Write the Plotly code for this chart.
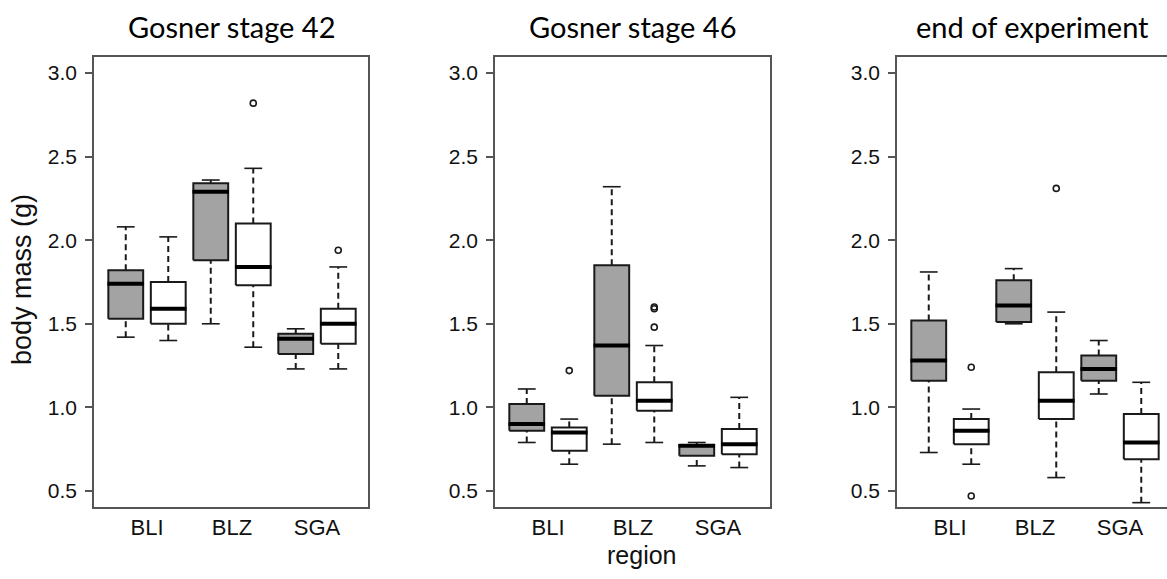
import plotly.graph_objects as go

W, H = 1167, 579

stages = ["Gosner stage 42", "Gosner stage 46", "end of experiment"]
regions = ["BLI", "BLZ", "SGA"]
y_ticks = [0.5, 1.0, 1.5, 2.0, 2.5, 3.0]

# Gosner stage 42
s42_gray_lower = [1.42, 1.50, 1.23]
s42_gray_q1 = [1.53, 1.88, 1.32]
s42_gray_med = [1.74, 2.29, 1.41]
s42_gray_q3 = [1.82, 2.34, 1.44]
s42_gray_upper = [2.08, 2.36, 1.47]
s42_gray_out = [[], [], []]
s42_white_lower = [1.40, 1.36, 1.23]
s42_white_q1 = [1.50, 1.73, 1.38]
s42_white_med = [1.59, 1.84, 1.50]
s42_white_q3 = [1.75, 2.10, 1.59]
s42_white_upper = [2.02, 2.43, 1.84]
s42_white_out = [[], [2.82], [1.94]]

# Gosner stage 46
s46_gray_lower = [0.79, 0.78, 0.65]
s46_gray_q1 = [0.86, 1.07, 0.71]
s46_gray_med = [0.90, 1.37, 0.77]
s46_gray_q3 = [1.02, 1.85, 0.775]
s46_gray_upper = [1.11, 2.32, 0.79]
s46_gray_out = [[], [], []]
s46_white_lower = [0.66, 0.79, 0.64]
s46_white_q1 = [0.74, 0.98, 0.72]
s46_white_med = [0.85, 1.04, 0.78]
s46_white_q3 = [0.88, 1.15, 0.87]
s46_white_upper = [0.93, 1.37, 1.06]
s46_white_out = [[1.22], [1.48, 1.59, 1.60], []]

# end of experiment
end_gray_lower = [0.73, 1.50, 1.08]
end_gray_q1 = [1.16, 1.51, 1.16]
end_gray_med = [1.28, 1.61, 1.23]
end_gray_q3 = [1.52, 1.76, 1.31]
end_gray_upper = [1.81, 1.83, 1.40]
end_gray_out = [[], [], []]
end_white_lower = [0.66, 0.58, 0.43]
end_white_q1 = [0.78, 0.93, 0.69]
end_white_med = [0.86, 1.04, 0.79]
end_white_q3 = [0.93, 1.21, 0.96]
end_white_upper = [0.99, 1.57, 1.15]
end_white_out = [[1.24, 0.47], [2.31], []]

panels = [
    [(s42_gray_lower, s42_gray_q1, s42_gray_med, s42_gray_q3, s42_gray_upper, s42_gray_out),
     (s42_white_lower, s42_white_q1, s42_white_med, s42_white_q3, s42_white_upper, s42_white_out)],
    [(s46_gray_lower, s46_gray_q1, s46_gray_med, s46_gray_q3, s46_gray_upper, s46_gray_out),
     (s46_white_lower, s46_white_q1, s46_white_med, s46_white_q3, s46_white_upper, s46_white_out)],
    [(end_gray_lower, end_gray_q1, end_gray_med, end_gray_q3, end_gray_upper, end_gray_out),
     (end_white_lower, end_white_q1, end_white_med, end_white_q3, end_white_upper, end_white_out)],
]

fills = ["#a3a3a3", "#ffffff"]
offsets = [-0.25, 0.25]
half_box = 0.205
half_cap = 0.105
half_med = 0.215
line_col = "#1a1a1a"
frame_col = "#555555"

# layout geometry (pixels)
px_left = [94, 495, 897]
px_right = [368, 770, 1167]
frame_top, frame_bottom = 57, 507
unit_px = 85.0
first_center_px = 53.0

fig = go.Figure()

for p, series in enumerate(panels):
    xa = "x" if p == 0 else f"x{p+1}"
    ya = "y" if p == 0 else f"y{p+1}"
    for s, (lo, q1, med, q3, up, outs) in enumerate(series):
        bx, by = [], []
        wx, wy = [], []
        cx, cy = [], []
        mx, my = [], []
        ox, oy = [], []
        for g in range(len(regions)):
            c = g + offsets[s]
            bx += [c - half_box, c + half_box, c + half_box, c - half_box, c - half_box, None]
            by += [q1[g], q1[g], q3[g], q3[g], q1[g], None]
            wx += [c, c, None, c, c, None]
            wy += [q3[g], up[g], None, lo[g], q1[g], None]
            cx += [c - half_cap, c + half_cap, None, c - half_cap, c + half_cap, None]
            cy += [up[g], up[g], None, lo[g], lo[g], None]
            mx += [c - half_med, c + half_med, None]
            my += [med[g], med[g], None]
            for o in outs[g]:
                ox.append(c)
                oy.append(o)
        fig.add_trace(go.Scatter(x=wx, y=wy, mode="lines", xaxis=xa, yaxis=ya,
                                 line=dict(color=line_col, width=2.0, dash="6px,4px"),
                                 hoverinfo="skip", showlegend=False))
        fig.add_trace(go.Scatter(x=cx, y=cy, mode="lines", xaxis=xa, yaxis=ya,
                                 line=dict(color=line_col, width=1.6),
                                 hoverinfo="skip", showlegend=False))
        fig.add_trace(go.Scatter(x=bx, y=by, mode="lines", fill="toself", fillcolor=fills[s],
                                 xaxis=xa, yaxis=ya,
                                 line=dict(color=line_col, width=2.0),
                                 hoverinfo="skip", showlegend=False))
        fig.add_trace(go.Scatter(x=mx, y=my, mode="lines", xaxis=xa, yaxis=ya,
                                 line=dict(color="#000000", width=4),
                                 hoverinfo="skip", showlegend=False))
        if ox:
            fig.add_trace(go.Scatter(x=ox, y=oy, mode="markers", xaxis=xa, yaxis=ya,
                                     marker=dict(symbol="circle-open", size=6, color=line_col,
                                                 line=dict(color=line_col, width=1.6)),
                                     hoverinfo="skip", showlegend=False))

ydom = [1 - frame_bottom / H, 1 - frame_top / H]
y_range = [0.404, 3.096]

layout = dict(
    width=W, height=H,
    margin=dict(l=0, r=0, t=0, b=0),
    paper_bgcolor="white", plot_bgcolor="white",
    font=dict(family="Liberation Sans, Arial, sans-serif", color="#111111"),
    showlegend=False,
)

annotations = []
for p in range(3):
    sfx = "" if p == 0 else str(p + 1)
    width_px = px_right[p] - px_left[p]
    x0 = -first_center_px / unit_px
    x1 = (width_px - first_center_px) / unit_px
    layout["xaxis" + sfx] = dict(
        domain=[px_left[p] / W, px_right[p] / W],
        anchor="y" + sfx,
        range=[x0, x1],
        tickvals=list(range(len(regions))), ticktext=regions,
        ticks="", showgrid=False, zeroline=False,
        showline=True, mirror=True, linecolor=frame_col, linewidth=1.6,
        tickfont=dict(size=22, color="#111111"),
        ticklabelstandoff=0,
    )
    layout["yaxis" + sfx] = dict(
        domain=ydom,
        anchor="x" + sfx,
        range=y_range,
        tickvals=y_ticks, ticktext=[f"{v:.1f}" for v in y_ticks],
        ticks="outside", ticklen=7, tickwidth=1.5, tickcolor=frame_col,
        showgrid=False, zeroline=False,
        showline=True, mirror=(p < 2), linecolor=frame_col, linewidth=1.6,
        tickfont=dict(size=21, color="#111111"),
        ticklabelstandoff=4,
    )
    cx_px = (px_left[p] + px_right[p]) / 2 if p < 2 else 1032
    annotations.append(dict(
        text=stages[p], xref="paper", yref="paper",
        x=cx_px / W, y=1 - 27 / H, xanchor="center", yanchor="middle",
        showarrow=False, font=dict(family="Lato, Carlito, sans-serif", size=29, color="#000000"),
    ))

annotations.append(dict(
    text="body mass (g)", xref="paper", yref="paper",
    x=22 / W, y=1 - 280 / H, xanchor="center", yanchor="middle", textangle=-90,
    showarrow=False, font=dict(size=27, color="#111111"),
))
annotations.append(dict(
    text="region", xref="paper", yref="paper",
    x=642 / W, y=1 - 555 / H, xanchor="center", yanchor="middle",
    showarrow=False, font=dict(size=25, color="#111111"),
))
layout["annotations"] = annotations

fig.update_layout(**layout)
fig.write_html("out.html")
